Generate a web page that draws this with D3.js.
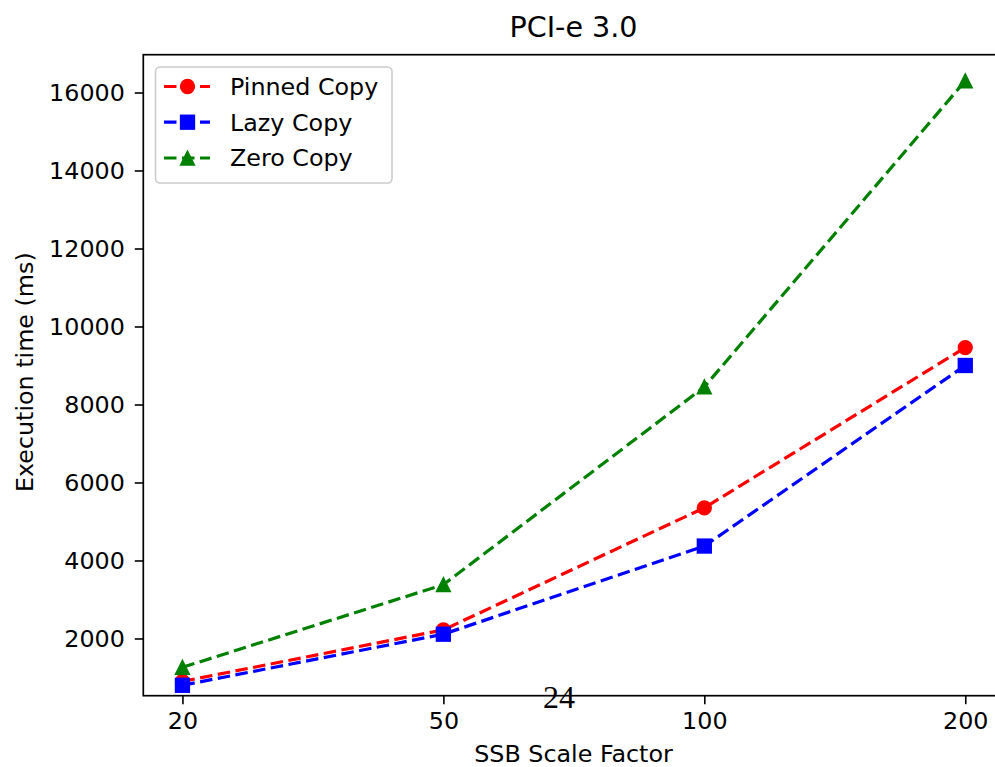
<!DOCTYPE html>
<html>
<head>
<meta charset="utf-8">
<script src="https://cdn.jsdelivr.net/npm/d3@7"></script>
<style>
  html, body { margin: 0; padding: 0; background: #fff; }
  svg { display: block; }
</style>
</head>
<body>
<svg id="chart" width="995" height="767"></svg>
<script>
const categories = ["20", "50", "100", "200"];
const pinnedCopy = [900, 2220, 5350, 9460];
const lazyCopy   = [800, 2110, 4370, 9000];
const zeroCopy   = [1260, 3380, 8450, 16300];
const yTicks = [2000, 4000, 6000, 8000, 10000, 12000, 14000, 16000];
const seriesNames = ["Pinned Copy", "Lazy Copy", "Zero Copy"];
const seriesColors = ["#ff0000", "#0000ff", "#008000"];
const seriesMarkers = ["circle", "square", "triangle"];
const seriesValues = [pinnedCopy, lazyCopy, zeroCopy];

(function () {
const svg = d3.select("#chart");
const pLeft = 143.3, pRight = 1004.4, pTop = 54.7, pBottom = 695.7;
const sans = "DejaVu Sans, sans-serif";

const x = d3.scaleLinear().domain([-0.15, categories.length - 1 + 0.15]).range([pLeft, pRight]);
const y = d3.scaleLinear().domain([533, 16969]).range([pBottom, pTop]);

const fs = 23.8;

const line = d3.line().x((d, i) => x(i)).y(d => y(d));
const markerSize = 13.8;
function drawMarker(g, type, cx, cy, color, s) {
  if (type === "circle") {
    g.append("circle").attr("cx", cx).attr("cy", cy).attr("r", s / 2)
      .attr("fill", color).attr("stroke", color).attr("stroke-width", 1.5);
  } else if (type === "square") {
    g.append("rect").attr("x", cx - s / 2).attr("y", cy - s / 2).attr("width", s).attr("height", s)
      .attr("fill", color).attr("stroke", color).attr("stroke-width", 1.5);
  } else {
    const h = s / 2;
    g.append("path").attr("d", `M${cx},${cy - h}L${cx - h},${cy + h}L${cx + h},${cy + h}Z`)
      .attr("fill", color).attr("stroke", color).attr("stroke-width", 1.5).attr("stroke-linejoin", "miter");
  }
}

const plot = svg.append("g");
seriesValues.forEach((vals, si) => {
  plot.append("path").datum(vals).attr("d", line)
    .attr("fill", "none").attr("stroke", seriesColors[si])
    .attr("stroke-width", 3.2).attr("stroke-dasharray", "12.5,5.5");
  vals.forEach((v, i) => drawMarker(plot, seriesMarkers[si], x(i), y(v), seriesColors[si], markerSize));
});

const yAxis = d3.axisLeft(y).tickValues(yTicks).tickSize(8.5).tickPadding(10).tickFormat(d3.format("d"));
const yg = svg.append("g").attr("transform", `translate(${pLeft},0)`).call(yAxis);
yg.select(".domain").remove();
yg.selectAll(".tick line").attr("stroke", "#000").attr("stroke-width", 1.6);
yg.selectAll(".tick text").style("font-size", fs + "px").style("font-family", sans).attr("fill", "#000");

const xAxis = d3.axisBottom(x).tickValues(categories.map((c, i) => i)).tickFormat(i => categories[i])
  .tickSize(8.5).tickPadding(8);
const xg = svg.append("g").attr("transform", `translate(0,${pBottom})`).call(xAxis);
xg.select(".domain").remove();
xg.selectAll(".tick line").attr("stroke", "#000").attr("stroke-width", 1.6);
xg.selectAll(".tick text").style("font-size", fs + "px").style("font-family", sans).attr("fill", "#000");

svg.append("rect").attr("x", pLeft).attr("y", pTop).attr("width", pRight - pLeft).attr("height", pBottom - pTop)
  .attr("fill", "none").attr("stroke", "#000").attr("stroke-width", 1.7);

svg.append("text").attr("x", 573.5).attr("y", 37).attr("text-anchor", "middle")
  .style("font-family", sans).style("font-size", "28.6px").text("PCI-e 3.0");
svg.append("text").attr("x", 573.5).attr("y", 762).attr("text-anchor", "middle")
  .style("font-family", sans).style("font-size", fs + "px").text("SSB Scale Factor");
svg.append("text").attr("transform", `translate(33,${(pTop + pBottom) / 2 - 3}) rotate(-90)`)
  .attr("text-anchor", "middle").style("font-family", sans).style("font-size", fs + "px").text("Execution time (ms)");

const lg = svg.append("g");
lg.append("rect").attr("x", 155.5).attr("y", 67).attr("width", 236.5).attr("height", 116)
  .attr("rx", 4.5).attr("fill", "#fff").attr("fill-opacity", 0.8)
  .attr("stroke", "#cccccc").attr("stroke-width", 1.6);
const rowY = [86.5, 122.2, 158];
seriesNames.forEach((name, si) => {
  const cy = rowY[si];
  lg.append("line").attr("x1", 164).attr("x2", 210).attr("y1", cy).attr("y2", cy)
    .attr("stroke", seriesColors[si]).attr("stroke-width", 3.2).attr("stroke-dasharray", "12.5,5.5");
  drawMarker(lg, seriesMarkers[si], 187.5, cy, seriesColors[si], markerSize);
  lg.append("text").attr("x", 230).attr("y", cy + 8.4)
    .style("font-family", sans).style("font-size", fs + "px").text(name);
});

svg.append("text").attr("x", 559).attr("y", 708).attr("text-anchor", "middle")
  .style("font-family", "'Liberation Serif', 'DejaVu Serif', serif").style("font-size", "32px").text("24");
})();
</script>
</body>
</html>
